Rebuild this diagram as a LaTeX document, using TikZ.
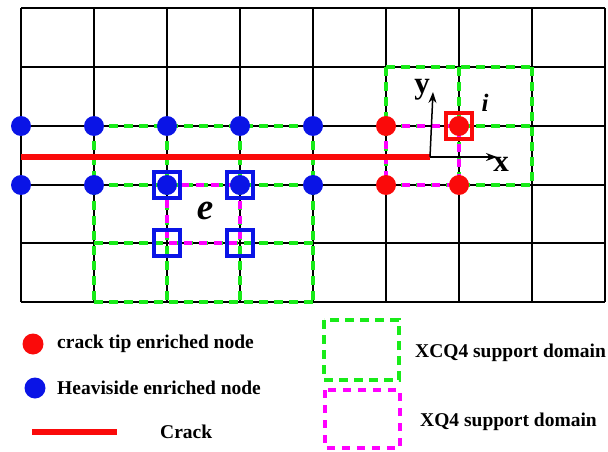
\documentclass[tikz,border=0pt]{standalone}
\usepackage{fontspec}
\setmainfont{Liberation Serif}
\usetikzlibrary{arrows.meta, positioning}
\definecolor{xcqgreen}{RGB}{25,235,25}
\definecolor{xqmagenta}{RGB}{255,0,255}
\definecolor{hblue}{RGB}{10,20,230}
\definecolor{tipred}{RGB}{250,10,10}

\begin{document}
\begin{tikzpicture}[x=1pt, y=-1pt,
    mesh/.style={black, line width=1.6pt},
    xcq/.style={xcqgreen, line width=4pt, dash pattern=on 9pt off 6pt},
    xq/.style={xqmagenta, line width=3.3pt, dash pattern=on 8pt off 7pt},
    crack/.style={tipred, line width=5.5pt},
    hnode/.style={circle, fill=hblue, minimum size=20pt, inner sep=0pt},
    tnode/.style={circle, fill=tipred, minimum size=20pt, inner sep=0pt},
    bsq/.style={draw=hblue, line width=3.2pt, minimum size=26pt, inner sep=0pt},
    rsq/.style={draw=tipred, line width=3.2pt, minimum size=26pt, inner sep=0pt},
    axis/.style={black, line width=1.5pt, -{Stealth[length=11pt,width=8pt]}},
    legtext/.style={anchor=west, inner sep=0pt, font=\fontsize{19.5}{22}\selectfont\bfseries}
]
\useasboundingbox (0,0) rectangle (608,452);

% mesh
\foreach \c in {21,94,...,605}
    \draw[mesh] (\c,8) -- (\c,302);
\foreach \r in {8,67,126,185,243,302}
    \draw[mesh] (21,\r) -- (605,\r);

% XCQ4 support domains
\foreach \c in {94,167,240,313}
    \draw[xcq] (\c,126) -- (\c,302);
\foreach \r in {126,185,243,302}
    \draw[xcq] (94,\r) -- (313,\r);
\foreach \c in {386,459,532}
    \draw[xcq] (\c,67) -- (\c,185);
\foreach \r in {67,126,185}
    \draw[xcq] (386,\r) -- (532,\r);

% XQ4 support domains
\draw[xq] (167,185) rectangle (240,243);
\draw[xq] (386,126) rectangle (459,185);

% crack
\coordinate (crackstart) at (21,157);
\coordinate (tip) at (430,157);
\draw[crack] (crackstart) -- (tip);

% enriched nodes
\foreach \c [count=\k] in {21,94,167,240,313} {
    \node[hnode] (ha\k) at (\c,126) {};
    \node[hnode] (hb\k) at (\c,185) {};
}
\node[tnode] (ta1) at (386,126) {};
\node[tnode] (ta2) at (459,126) {};
\node[tnode] (tb1) at (386,185) {};
\node[tnode] (tb2) at (459,185) {};

% element nodes
\node[bsq] (sq1) at (hb3) {};
\node[bsq] (sq2) at (hb4) {};
\node[bsq] (sq3) at (167,243) {};
\node[bsq] (sq4) at (240,243) {};
\node[rsq] (sqi) at (ta2) {};
\node[font=\fontsize{37}{38}\selectfont\bfseries\itshape] (elab) at (205,211) {e};
\node[font=\fontsize{25}{26}\selectfont\bfseries\itshape] (ilab) at (485,103) {i};

% local axes at the tip
\coordinate (yend) at (433,92);
\coordinate (xend) at (497,157);
\draw[axis] (tip) -- (yend);
\draw[axis] (tip) -- (xend);
\node[font=\fontsize{31}{32}\selectfont\bfseries] (ylab) at (422,90) {y};
\node[font=\fontsize{31}{32}\selectfont\bfseries] (xlab) at (501,164) {x};

% legend
\node[tnode, minimum size=21pt] (legtip) at (33,344) {};
\node[legtext] (legtiptxt) at (57,344) {crack tip enriched node};
\node[hnode, minimum size=21pt] (legh) at (35,388) {};
\node[legtext] (leghtxt) at (57,388) {Heaviside enriched node};
\coordinate (legcA) at (32,432);
\coordinate (legcB) at (117,432);
\draw[crack, line width=6pt] (legcA) -- (legcB);
\node[legtext] (legcrack) at (160,432) {Crack};
\draw[xcq, line width=4.5pt] (324,320) rectangle (399,380);
\node[legtext] (legxcq) at (415,353) {XCQ4 support domain};
\draw[xq, line width=4.5pt] (325,390) rectangle (400,448);
\node[legtext] (legxq) at (420,422) {XQ4 support domain};
\end{tikzpicture}
\end{document}
